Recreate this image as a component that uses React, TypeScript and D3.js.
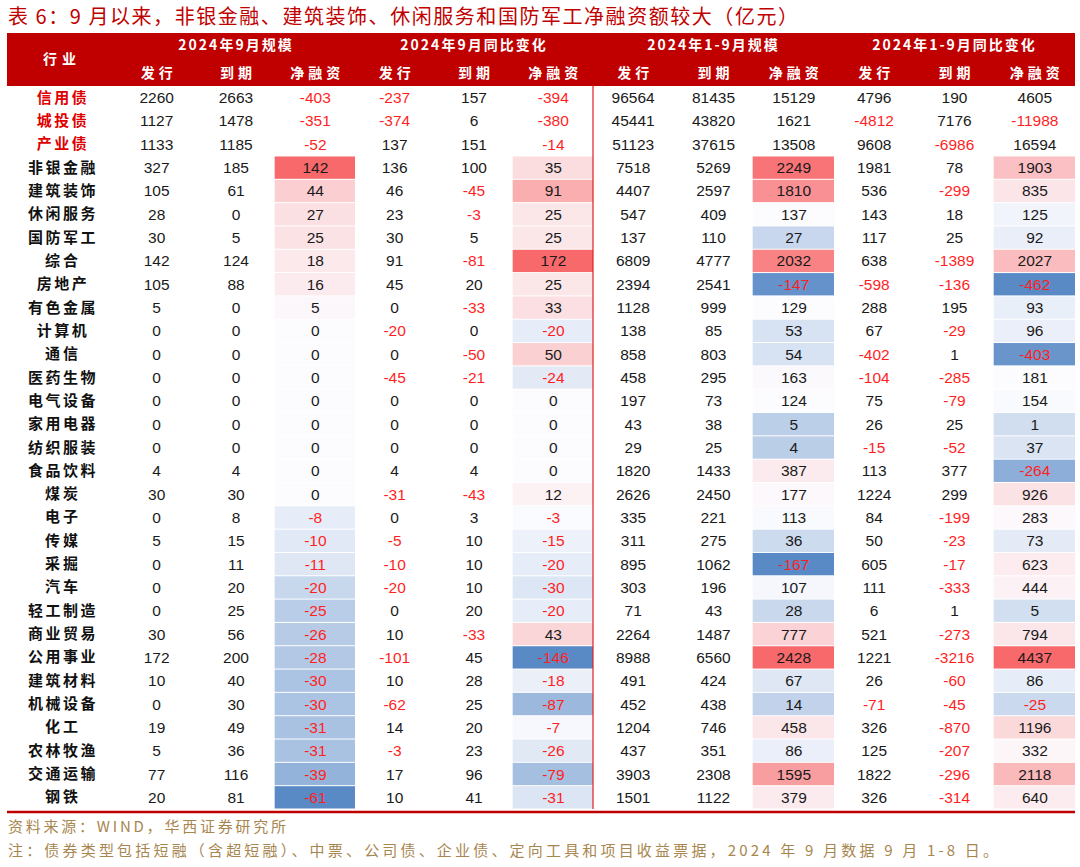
import React from 'react';
import * as d3 from 'd3';

const categories = ['信用债', '城投债', '产业债', '非银金融', '建筑装饰', '休闲服务', '国防军工', '综合', '房地产', '有色金属', '计算机', '通信', '医药生物', '电气设备', '家用电器', '纺织服装', '食品饮料', '煤炭', '电子', '传媒', '采掘', '汽车', '轻工制造', '商业贸易', '公用事业', '建筑材料', '机械设备', '化工', '农林牧渔', '交通运输', '钢铁'];

// 2024年9月规模
const sepIssue = [2260, 1127, 1133, 327, 105, 28, 30, 142, 105, 5, 0, 0, 0, 0, 0, 0, 4, 30, 0, 5, 0, 0, 0, 30, 172, 10, 0, 19, 5, 77, 20];
const sepMature = [2663, 1478, 1185, 185, 61, 0, 5, 124, 88, 0, 0, 0, 0, 0, 0, 0, 4, 30, 8, 15, 11, 20, 25, 56, 200, 40, 30, 49, 36, 116, 81];
const sepNet = [-403, -351, -52, 142, 44, 27, 25, 18, 16, 5, 0, 0, 0, 0, 0, 0, 0, 0, -8, -10, -11, -20, -25, -26, -28, -30, -30, -31, -31, -39, -61];
// 2024年9月同比变化
const sepIssueYoy = [-237, -374, 137, 136, 46, 23, 30, 91, 45, 0, -20, 0, -45, 0, 0, 0, 4, -31, 0, -5, -10, -20, 0, 10, -101, 10, -62, 14, -3, 17, 10];
const sepMatureYoy = [157, 6, 151, 100, -45, -3, 5, -81, 20, -33, 0, -50, -21, 0, 0, 0, 4, -43, 3, 10, 10, 10, 20, -33, 45, 28, 25, 20, 23, 96, 41];
const sepNetYoy = [-394, -380, -14, 35, 91, 25, 25, 172, 25, 33, -20, 50, -24, 0, 0, 0, 0, 12, -3, -15, -20, -30, -20, 43, -146, -18, -87, -7, -26, -79, -31];
// 2024年1-9月规模
const ytdIssue = [96564, 45441, 51123, 7518, 4407, 547, 137, 6809, 2394, 1128, 138, 858, 458, 197, 43, 29, 1820, 2626, 335, 311, 895, 303, 71, 2264, 8988, 491, 452, 1204, 437, 3903, 1501];
const ytdMature = [81435, 43820, 37615, 5269, 2597, 409, 110, 4777, 2541, 999, 85, 803, 295, 73, 38, 25, 1433, 2450, 221, 275, 1062, 196, 43, 1487, 6560, 424, 438, 746, 351, 2308, 1122];
const ytdNet = [15129, 1621, 13508, 2249, 1810, 137, 27, 2032, -147, 129, 53, 54, 163, 124, 5, 4, 387, 177, 113, 36, -167, 107, 28, 777, 2428, 67, 14, 458, 86, 1595, 379];
// 2024年1-9月同比变化
const ytdIssueYoy = [4796, -4812, 9608, 1981, 536, 143, 117, 638, -598, 288, 67, -402, -104, 75, 26, -15, 113, 1224, 84, 50, 605, 111, 6, 521, 1221, 26, -71, 326, 125, 1822, 326];
const ytdMatureYoy = [190, 7176, -6986, 78, -299, 18, 25, -1389, -136, 195, -29, 1, -285, -79, 25, -52, 377, 299, -199, -23, -17, -333, 1, -273, -3216, -60, -45, -870, -207, -296, -314];
const ytdNetYoy = [4605, -11988, 16594, 1903, 835, 125, 92, 2027, -462, 93, 96, -403, 181, 154, 1, 37, -264, 926, 283, 73, 623, 444, 5, 794, 4437, 86, -25, 1196, 332, 2118, 640];

const groupLabels = ['2024年9月规模', '2024年9月同比变化', '2024年1-9月规模', '2024年1-9月同比变化'];
const subLabels = ['发行', '到期', '净融资'];

const columns = [sepIssue, sepMature, sepNet, sepIssueYoy, sepMatureYoy, sepNetYoy, ytdIssue, ytdMature, ytdNet, ytdIssueYoy, ytdMatureYoy, ytdNetYoy];
const heatCols = [2, 5, 8, 11];
const bondRows = 3; // first three rows are bond totals, no colour scale

const width = 1080;
const height = 867;
const left = 7;
const right = 1075;
const labelW = 110;
const split = 593;
const headTop = 33;
const headBottom = 86;
const bodyBottom = 809;

const RED = '#c00000';
const NEG = '#ff1f1f';
const numFont = '"Liberation Sans", Arial, sans-serif';
const cjkFont = '"Noto Sans CJK SC", sans-serif';

export default function App() {
  const xLeft = d3.scaleBand<number>().domain(d3.range(6)).range([left + labelW, split]);
  const xRight = d3.scaleBand<number>().domain(d3.range(6, 12)).range([split, right]);
  const colX = (i: number) => (i < 6 ? xLeft(i)! : xRight(i)!);
  const colW = (i: number) => (i < 6 ? xLeft.bandwidth() : xRight.bandwidth());
  const y = d3.scaleBand<number>().domain(d3.range(categories.length)).range([headBottom, bodyBottom]);

  // Excel style 3-colour scale: min blue, median white, max red
  const colour = new Map<number, d3.ScaleLinear<string, string>>();
  heatCols.forEach((c) => {
    const vals = columns[c].slice(bondRows);
    colour.set(
      c,
      d3.scaleLinear<string>()
        .domain([d3.min(vals)!, d3.median(vals)!, d3.max(vals)!])
        .range(['#5A8AC6', '#FCFCFF', '#F8696B'])
        .interpolate(d3.interpolateRgb)
    );
  });

  return (
    <div style={{ position: 'absolute', left: 0, top: 0 }}>
      <svg width={width} height={height} style={{ display: 'block', background: '#fff' }}>
        <text x={8} y={24} fill={RED} fontFamily={cjkFont} fontSize={20} textLength={790} lengthAdjust="spacing">
          表 6：9 月以来，非银金融、建筑装饰、休闲服务和国防军工净融资额较大（亿元）
        </text>

        {/* header band */}
        <rect x={left} y={headTop} width={right - left} height={headBottom - headTop} fill={RED} />
        <text x={left + labelW / 2} y={64} textAnchor="middle" fill="#fff" fontFamily={cjkFont} fontWeight={700} fontSize={14} letterSpacing={5}>
          行业
        </text>
        {groupLabels.map((g, gi) => {
          const a = colX(gi * 3);
          const b = colX(gi * 3 + 2) + colW(gi * 3 + 2);
          return (
            <text key={g} x={(a + b) / 2} y={50} textAnchor="middle" fill="#fff" fontFamily={cjkFont} fontWeight={700} fontSize={14} letterSpacing={2}>
              {g}
            </text>
          );
        })}
        {columns.map((_, ci) => (
          <text key={ci} x={colX(ci) + colW(ci) / 2 + 2} y={78} textAnchor="middle" fill="#fff" fontFamily={cjkFont} fontWeight={700} fontSize={14} letterSpacing={4}>
            {subLabels[ci % 3]}
          </text>
        ))}

        {/* heat cells */}
        {heatCols.map((c) =>
          columns[c].map((v, ri) =>
            ri < bondRows ? null : (
              <rect key={`h${c}-${ri}`} x={colX(c) - 1} y={y(ri)! + 0.5} width={colW(c) + 1} height={y.bandwidth() - 1} fill={colour.get(c)!(v)} />
            )
          )
        )}

        {/* row labels */}
        {categories.map((name, ri) => (
          <text key={name} x={left + labelW / 2 + 1} y={y(ri)! + y.bandwidth() / 2 + 5} textAnchor="middle" fill={ri < bondRows ? '#e00000' : '#111'} fontFamily={cjkFont} fontWeight={700} fontSize={15} letterSpacing={name.length === 2 ? 3 : 2.5}>
            {name}
          </text>
        ))}

        {/* numbers */}
        {columns.map((col, ci) =>
          col.map((v, ri) => (
            <text key={`n${ci}-${ri}`} x={colX(ci) + colW(ci) / 2} y={y(ri)! + y.bandwidth() / 2 + 5.5} textAnchor="middle" fill={v < 0 ? NEG : '#1a1a1a'} fontFamily={numFont} fontSize={15.5}>
              {v}
            </text>
          ))
        )}

        <line x1={split} x2={split} y1={headBottom} y2={bodyBottom} stroke="#e02020" strokeWidth={1.2} />
        <line x1={left} x2={right} y1={bodyBottom + 3} y2={bodyBottom + 3} stroke={RED} strokeWidth={2.5} />

        <text x={8} y={832} fill="#a8864f" fontFamily={cjkFont} fontSize={15} textLength={278} lengthAdjust="spacing">
          资料来源：WIND，华西证券研究所
        </text>
        <text x={8} y={856} fill="#a8864f" fontFamily={cjkFont} fontSize={15} textLength={990} lengthAdjust="spacing">
          注：债券类型包括短融（含超短融）、中票、公司债、企业债、定向工具和项目收益票据，2024 年 9 月数据 9 月 1-8 日。
        </text>
      </svg>
    </div>
  );
}
